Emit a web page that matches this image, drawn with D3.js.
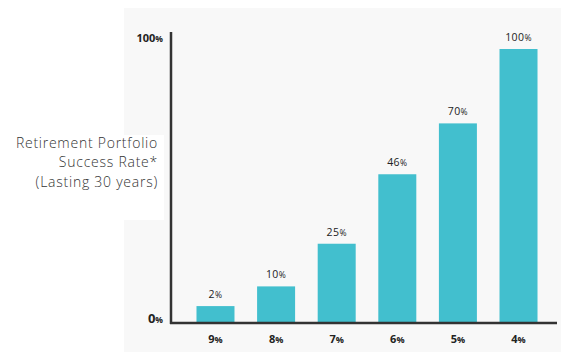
<!DOCTYPE html>
<html>
<head>
<meta charset="utf-8">
<script src="https://cdn.jsdelivr.net/npm/d3@7"></script>
<style>
  html, body { margin: 0; padding: 0; background: #ffffff; }
  svg { display: block; }
  text { font-family: "Open Sans", "DejaVu Sans", sans-serif; fill: #222; }
</style>
</head>
<body>
<script>
// Withdrawal-rate categories (x axis)
const categories = ["9%", "8%", "7%", "6%", "5%", "4%"];
// Success rates printed above bars
const successRates = [2, 10, 25, 46, 70, 100];
// Bar heights as drawn in the picture (in % of the 0–100% axis)
const barHeights = [6, 13.2, 28.8, 54.2, 72.8, 100];
// Y axis tick labels
const yTicks = [0, 100];
const titleLines = ["Retirement Portfolio", "Success Rate*", "(Lasting 30 years)"];

const W = 575, H = 355;
const svg = d3.select("body").append("svg").attr("width", W).attr("height", H);

// gray panel
svg.append("rect").attr("x", 124).attr("y", 8).attr("width", 437).attr("height", 344).attr("fill", "#f8f8f8");
// white box behind the axis title
svg.append("rect").attr("x", 0).attr("y", 135).attr("width", 164).attr("height", 85).attr("fill", "#ffffff");

const x = d3.scaleBand().domain(categories).range([170, 564]).paddingInner(0.373).paddingOuter(0.437);
const y = d3.scaleLinear().domain([0, 100]).range([322.5, 49]);

const data = categories.map((c, i) => ({ c, v: successRates[i], h: barHeights[i] }));

// bars
svg.append("g").selectAll("rect").data(data).join("rect")
  .attr("x", d => x(d.c))
  .attr("y", d => y(d.h))
  .attr("width", x.bandwidth())
  .attr("height", d => y(0) - y(d.h))
  .attr("fill", "#42bfce");

// value labels
const vl = svg.append("g").selectAll("text").data(data).join("text")
  .attr("x", d => x(d.c) + x.bandwidth() / 2)
  .attr("y", d => y(d.h) - 8)
  .attr("text-anchor", "middle")
  .style("font-size", "10.5px")
  .style("letter-spacing", "0.4px");
vl.append("tspan").text(d => d.v);
vl.append("tspan").style("font-size", "8.5px").text("%");

// axes lines
svg.append("line").attr("x1", 171).attr("x2", 171).attr("y1", 32).attr("y2", 324)
  .attr("stroke", "#333").attr("stroke-width", 2.5);
svg.append("line").attr("x1", 170).attr("x2", 557).attr("y1", y(0) + 0.5).attr("y2", y(0) + 0.5)
  .attr("stroke", "#333").attr("stroke-width", 2.5);

// x tick labels
const xl = svg.append("g").selectAll("text").data(categories).join("text")
  .attr("x", d => x(d) + x.bandwidth() / 2)
  .attr("y", 343)
  .attr("text-anchor", "middle")
  .style("font-size", "11px")
  .style("font-weight", "700");
xl.append("tspan").text(d => d.replace("%", ""));
xl.append("tspan").style("font-size", "9px").text("%");

// y tick labels
const yl = svg.append("g").selectAll("text").data(yTicks).join("text")
  .attr("x", 163)
  .attr("y", d => d === 0 ? 323 : 42)
  .attr("text-anchor", "end")
  .style("font-weight", "700")
  .style("font-size", d => d === 0 ? "13px" : "11px");
yl.append("tspan").text(d => d);
yl.append("tspan").style("font-size", "8.5px").text("%");

// axis title
svg.append("g").selectAll("text").data(titleLines).join("text")
  .attr("x", 158)
  .attr("y", (d, i) => 148 + i * 19.3)
  .attr("text-anchor", "end")
  .style("font-size", "14px")
  .style("font-weight", "300")
  .style("letter-spacing", "0.75px")
  .style("fill", "#333")
  .text(d => d);
</script>
</body>
</html>
